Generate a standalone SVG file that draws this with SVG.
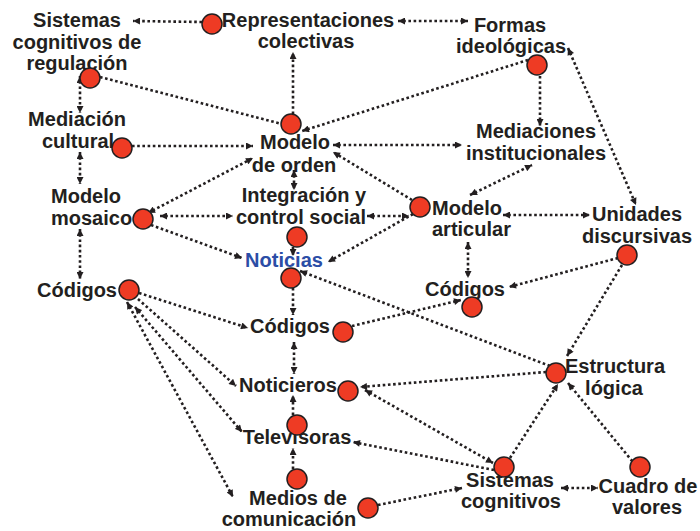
<svg xmlns="http://www.w3.org/2000/svg" width="700" height="531" viewBox="0 0 700 531">
<defs>
<marker id="ah" viewBox="0 0 10 10" refX="10" refY="5" markerWidth="8" markerHeight="7" markerUnits="userSpaceOnUse" orient="auto-start-reverse">
<path d="M0,0 L10,5 L0,10 z" fill="#231f20"/>
</marker>
<style>
.t{font-family:"Liberation Sans",Arial,sans-serif;font-weight:bold;font-size:20px;fill:#231f20;text-anchor:middle}
.s{text-anchor:start}
.b{fill:#2b4da6}
.d{fill:#ee3b24;stroke:#231f20;stroke-width:1.5}
.c line{stroke:#231f20;stroke-width:2.6;stroke-dasharray:2.6 2.6;fill:none}
.e{marker-end:url(#ah)}
.x{marker-start:url(#ah);marker-end:url(#ah)}
</style>
</defs>
<rect width="700" height="531" fill="#fff"/>
<g id="connectors" class="c">
<line class="e" x1="202" y1="22" x2="133" y2="21"/>
<line class="x" x1="398" y1="21" x2="468" y2="21"/>
<line class="e" x1="293" y1="114" x2="293" y2="52"/>
<line x1="100" y1="77" x2="282" y2="124"/>
<line class="x" x1="80" y1="76" x2="80" y2="113"/>
<line class="e" x1="132" y1="146" x2="253" y2="146"/>
<line class="x" x1="80" y1="152" x2="80" y2="184"/>
<line class="e" x1="528" y1="60" x2="302" y2="131"/>
<line class="e" x1="540" y1="76" x2="540" y2="126"/>
<line class="x" x1="333" y1="145" x2="462" y2="145"/>
<line class="e" x1="412" y1="200" x2="333" y2="152"/>
<line class="x" x1="470" y1="195" x2="532" y2="165"/>
<line class="x" x1="294" y1="170" x2="294" y2="190"/>
<line class="x" x1="148" y1="213" x2="253" y2="158"/>
<line class="x" x1="160" y1="216" x2="233" y2="216"/>
<line class="e" x1="151" y1="225" x2="242" y2="258"/>
<line class="x" x1="80" y1="229" x2="80" y2="279"/>
<line class="e" x1="293" y1="247" x2="293" y2="256"/>
<line class="x" x1="367" y1="216" x2="409" y2="216"/>
<line class="e" x1="413" y1="214" x2="328" y2="262"/>
<line class="e" x1="293" y1="288" x2="293" y2="315"/>
<line class="e" x1="550" y1="366" x2="300" y2="271"/>
<line class="e" x1="139" y1="293" x2="248" y2="328"/>
<line class="x" x1="294" y1="342" x2="294" y2="374"/>
<line class="e" x1="352" y1="326" x2="461" y2="300"/>
<line class="e" x1="618" y1="258" x2="509" y2="287"/>
<line class="x" x1="468" y1="242" x2="468" y2="278"/>
<line class="x" x1="503" y1="215" x2="590" y2="215"/>
<line class="e" x1="622" y1="265" x2="567" y2="356"/>
<line class="e" x1="546" y1="372" x2="360" y2="387"/>
<line class="x" x1="365" y1="390" x2="493" y2="463"/>
<line class="e" x1="494" y1="470" x2="353" y2="442"/>
<line class="e" x1="510" y1="458" x2="558" y2="384"/>
<line class="x" x1="568" y1="383" x2="642" y2="473"/>
<line class="x" x1="561" y1="488" x2="598" y2="488"/>
<line class="e" x1="378" y1="505" x2="462" y2="488"/>
<line class="e" x1="293" y1="469" x2="293" y2="448"/>
<line class="e" x1="293" y1="415" x2="293" y2="395"/>
<line class="e" x1="138" y1="299" x2="236" y2="386"/>
<line class="x" x1="135" y1="307" x2="242" y2="432"/>
<line class="x" x1="127" y1="302" x2="233" y2="497"/>
<line class="x" x1="568" y1="48" x2="636" y2="205"/>
</g>
<g id="sistemas-regulacion"><text class="t" x="77" y="27">Sistemas</text><text class="t" x="77" y="49">cognitivos de</text><text class="t" x="77" y="70">regulación</text><circle class="d" cx="90" cy="78" r="10"/></g>
<g id="representaciones"><text class="t" x="308" y="27">Representaciones</text><text class="t" x="306" y="48">colectivas</text><circle class="d" cx="212" cy="24" r="10"/></g>
<g id="formas"><text class="t" x="510" y="32">Formas</text><text class="t" x="511" y="53">ideológicas</text><circle class="d" cx="537" cy="65" r="10"/></g>
<g id="mediacion-cultural"><text class="t" x="77" y="126">Mediación</text><text class="t" x="78" y="148">cultural</text><circle class="d" cx="122" cy="148" r="10"/></g>
<g id="modelo-orden"><text class="t" x="295" y="149">Modelo</text><text class="t" x="294" y="172">de orden</text><circle class="d" cx="291" cy="124" r="10"/></g>
<g id="mediaciones-inst"><text class="t" x="536" y="138">Mediaciones</text><text class="t" x="536" y="160">institucionales</text></g>
<g id="modelo-mosaico"><text class="t s" x="51" y="203">Modelo</text><text class="t s" x="51" y="225">mosaico</text><circle class="d" cx="143" cy="219" r="10"/></g>
<g id="integracion"><text class="t" x="304" y="202">Integración y</text><text class="t" x="301" y="224">control social</text><circle class="d" cx="297" cy="237" r="10"/></g>
<g id="noticias"><text class="t b" x="284" y="267">Noticias</text><circle class="d" cx="291" cy="278" r="10"/></g>
<g id="modelo-articular"><text class="t s" x="432" y="215">Modelo</text><text class="t s" x="432" y="236">articular</text><circle class="d" cx="420" cy="207" r="10"/></g>
<g id="unidades"><text class="t" x="637" y="221">Unidades</text><text class="t" x="637" y="243">discursivas</text><circle class="d" cx="627" cy="255" r="10"/></g>
<g id="codigos-right"><text class="t" x="465" y="296">Códigos</text><circle class="d" cx="472" cy="307" r="10"/></g>
<g id="codigos-left"><text class="t" x="77" y="297">Códigos</text><circle class="d" cx="129" cy="290" r="10"/></g>
<g id="codigos-center"><text class="t" x="290" y="333">Códigos</text><circle class="d" cx="343" cy="332" r="10"/></g>
<g id="noticieros"><text class="t" x="288" y="392">Noticieros</text><circle class="d" cx="348" cy="391" r="10"/></g>
<g id="televisoras"><text class="t" x="297" y="444">Televisoras</text><circle class="d" cx="297" cy="425" r="10"/></g>
<g id="medios"><text class="t" x="298" y="505">Medios de</text><text class="t" x="289" y="526">comunicación</text><circle class="d" cx="297" cy="479" r="10"/><circle class="d" cx="368" cy="508" r="10"/></g>
<g id="estructura"><text class="t" x="615" y="373">Estructura</text><text class="t" x="614" y="395">lógica</text><circle class="d" cx="556" cy="373" r="10"/></g>
<g id="sistemas-cognitivos"><text class="t" x="510" y="487">Sistemas</text><text class="t" x="511" y="508">cognitivos</text><circle class="d" cx="504" cy="467" r="10"/></g>
<g id="cuadro-valores"><text class="t" x="648" y="493">Cuadro de</text><text class="t" x="647" y="514">valores</text><circle class="d" cx="640" cy="467" r="10"/></g>
</svg>
